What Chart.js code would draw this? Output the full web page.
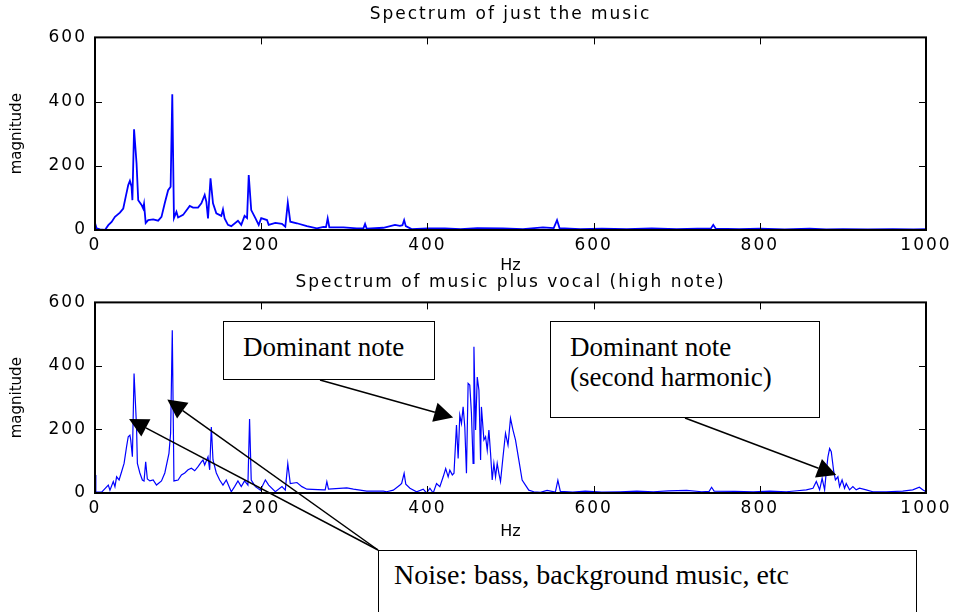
<!DOCTYPE html>
<html><head><meta charset="utf-8">
<script src="https://cdn.jsdelivr.net/npm/chart.js@4.4.1/dist/chart.umd.min.js"></script>
<style>
html,body{margin:0;padding:0;background:#fff;}
#wrap{position:relative;width:960px;height:612px;overflow:hidden;background:#fff;}
canvas{position:absolute;left:0;}
.note{position:absolute;box-sizing:border-box;border:1.5px solid #000;background:#fff;font-family:'Liberation Serif','Times New Roman',serif;font-size:27px;line-height:30px;color:#000;white-space:nowrap;}
</style></head><body>
<div id="wrap">
<canvas id="topChart" width="960" height="275" style="top:0"></canvas>
<canvas id="botChart" width="960" height="344" style="top:268px"></canvas>
<div class="note" style="left:223px;top:321px;width:212px;height:59px;padding:10px 0 0 19px">Dominant note</div>
<div class="note" style="left:550px;top:321px;width:270px;height:97px;padding:10px 0 0 19px">Dominant note<br>(second harmonic)</div>
<div class="note" style="left:378px;top:550px;width:539px;height:90px;padding:9px 0 0 15px;font-size:28px">Noise: bass, background music, etc</div>
</div>
<script>
// ---------------- data ----------------
const titleMusic = 'Spectrum of just the music';
const titleVocal = 'Spectrum of music plus vocal (high note)';
const xTitle = 'Hz';
const yTitle = 'magnitude';
const xTicks = [0, 200, 400, 600, 800, 1000];
const yTicks = [0, 200, 400, 600];

const freqMusic = [0,2,6,12,16,20,24,30,34,37,40,42,44,45,47,50,52,56,58,59,61,64,70,76,80,84,88,91,93,95,98,100,106,114,118,124,128,132,134,136,139,142,146,152,154,156,160,164,172,176,180,183,185,188,193,197,200,207,209,217,225,229,232,235,243,255,267,275,278,280,282,299,315,323,325,327,347,361,367,370,372,374,381,400,421,440,460,491,515,539,552,556,559,584,610,640,670,700,725,741,744,747,775,800,830,860,880,900,930,960,985,1000];
const magMusic  = [22,5,2,0,15,25,41,54,67,104,140,153,135,93,314,208,93,78,67,81,22,31,33,29,41,84,124,135,423,37,57,39,47,75,70,70,83,109,88,36,161,83,52,44,64,36,16,12,29,16,44,37,171,62,37,16,37,31,16,22,19,10,85,26,21,12,5,10,9,36,8,8,5,5,19,4,7,16,13,15,31,12,3,5,5,3,6,5,3,8,6,31,6,3,4,3,5,3,4,4,16,4,3,4,2,4,2,3,2,3,2,3];

const freqVocal = [0,1,8,16,18,22,24,26,29,32,35,38,40,42,43,45,47,50,51,54,57,59,61,63,66,70,74,80,84,89,91,93,95,100,104,108,112,116,120,124,128,130,132,136,138,140,142,146,150,154,158,164,168,172,176,180,184,186,188,193,199,205,209,217,225,229,232,235,243,249,255,275,277,279,281,303,311,327,347,351,359,367,369,372,374,379,387,395,399,403,407,411,415,419,422,425,427,430,432,435,437,439,441,443,445,447,449,451,453,455,456,458,460,462,464,465,468,470,472,474,476,478,480,482,484,486,488,491,494,497,500,503,506,510,514,518,522,528,536,544,554,557,560,575,590,610,632,652,672,690,712,730,739,742,745,770,792,812,832,845,856,864,868,872,875,878,880,882,884,886,889,891,894,896,899,902,904,908,912,916,920,928,936,952,972,984,992,996,1000];
const magVocal  = [57,4,3,25,9,36,20,51,41,67,93,146,177,182,167,114,376,208,93,63,41,38,98,44,38,41,25,38,63,125,188,512,38,41,57,63,73,78,70,83,98,104,88,114,73,208,104,63,41,25,41,4,20,38,20,38,25,233,41,20,9,41,25,4,20,9,93,30,33,20,12,10,10,36,12,16,12,6,6,4,9,25,30,62,28,15,4,12,0,15,0,30,20,51,77,51,72,57,62,214,109,245,219,271,208,62,345,340,250,93,460,198,365,324,104,271,167,177,135,198,125,41,93,51,93,62,36,114,188,151,235,198,167,104,41,25,9,4,2,8,3,40,5,3,6,3,4,6,4,7,8,4,5,18,6,5,4,6,4,7,10,15,36,10,46,10,67,114,140,130,67,41,51,20,41,15,30,10,20,10,15,10,4,4,6,10,18,10,4];

// annotation arrow targets (in data units)
const arrowHz  = [431, 892, 41, 87];
const arrowMag = [238, 57, 233, 294];
// ---------------- layout ----------------
const arrowTails = [[320,112],[685,150],[378,282],[378,282]]; // canvas px of bottom chart

Chart.defaults.font.family = "'DejaVu Sans', sans-serif";
Chart.defaults.color = '#000';

function wrapSpacing(obj, name, sp){
  if(!obj || !obj[name]) return;
  const orig = obj[name];
  obj[name] = function(...a){
    const ctx = this.ctx; ctx.save();
    try { ctx.letterSpacing = sp; } catch(e){}
    orig.apply(this, a); ctx.restore();
  };
}
const spacingPlugin = {
  id:'spacing',
  beforeDraw(chart){
    if(chart._spw) return; chart._spw = true;
    wrapSpacing(chart.scales.x,'drawLabels','2px');
    wrapSpacing(chart.scales.y,'drawLabels','2px');
    wrapSpacing(chart.titleBlock,'draw','2px');
  }
};
const matlabAxes = {
  id:'matlabAxes',
  afterDraw(chart){
    const {ctx, chartArea:{left,right,top,bottom}, scales:{x,y}} = chart;
    ctx.save();
    ctx.strokeStyle = '#000';
    ctx.lineWidth = 1;
    ctx.beginPath();
    xTicks.forEach(v=>{const px=Math.round(x.getPixelForValue(v))+0.5; ctx.moveTo(px,bottom); ctx.lineTo(px,bottom-7); ctx.moveTo(px,top); ctx.lineTo(px,top+7);});
    yTicks.forEach(v=>{const py=Math.round(y.getPixelForValue(v))+0.5; ctx.moveTo(left,py); ctx.lineTo(left+7,py); ctx.moveTo(right,py); ctx.lineTo(right-7,py);});
    ctx.stroke();
    ctx.lineWidth = 2;
    ctx.strokeRect(left,top,right-left,bottom-top);
    ctx.restore();
  }
};
const arrowPlugin = {
  id:'arrows',
  afterDraw(chart){
    const {ctx, scales:{x,y}} = chart;
    ctx.save();
    ctx.strokeStyle = '#000'; ctx.fillStyle = '#000'; ctx.lineWidth = 1.5;
    arrowHz.forEach((hz,i)=>{
      const x1 = x.getPixelForValue(hz), y1 = y.getPixelForValue(arrowMag[i]);
      const [x0,y0] = arrowTails[i];
      const a = Math.atan2(y1-y0, x1-x0), L = 19, W = 9.8;
      const bx = x1 - L*Math.cos(a), by = y1 - L*Math.sin(a);
      ctx.beginPath(); ctx.moveTo(x0,y0); ctx.lineTo(bx,by); ctx.stroke();
      ctx.beginPath(); ctx.moveTo(x1,y1);
      ctx.lineTo(bx + W*Math.sin(a), by - W*Math.cos(a));
      ctx.lineTo(bx - W*Math.sin(a), by + W*Math.cos(a));
      ctx.closePath(); ctx.fill();
    });
    ctx.restore();
  }
};

function makeChart(id, title, freq, mag, lw, cfg, extra){
  return new Chart(document.getElementById(id), {
    type:'line',
    data:{ datasets:[{ data: freq.map((f,i)=>({x:f, y:mag[i]})), borderColor:'#0000ff', borderWidth:lw, pointRadius:0, tension:0, fill:false }] },
    options:{
      responsive:false, animation:false, devicePixelRatio:1,
      layout:{ padding:{ left:0, right:34, top:0, bottom:cfg.padBottom } },
      plugins:{
        legend:{display:false}, tooltip:{enabled:false},
        title:{ display:true, text:title, fullSize:false, font:{size:17, weight:'normal'}, color:'#000', padding:{top:cfg.titleTop, bottom:cfg.titleBottom} }
      },
      scales:{
        x:{ type:'linear', min:0, max:1000,
            afterBuildTicks:s=>{ s.ticks = xTicks.map(v=>({value:v})); },
            afterFit:s=>{ s.height = cfg.xHeight; },
            grid:{display:false, drawTicks:false}, border:{display:false},
            ticks:{ font:{size:17}, padding:5, maxRotation:0, autoSkip:false, callback:v=>String(v) },
            title:{ display:true, text:xTitle, font:{size:16}, padding:{top:0,bottom:0} } },
        y:{ type:'linear', min:0, max:600,
            afterBuildTicks:s=>{ s.ticks = yTicks.map(v=>({value:v})); },
            afterFit:s=>{ s.width = 95; },
            grid:{display:false, drawTicks:false}, border:{display:false},
            ticks:{ font:{size:17}, padding:8, callback:v=>String(v) },
            title:{ display:true, text:yTitle, font:{size:15}, padding:{top:8,bottom:0} } }
      }
    },
    plugins:[spacingPlugin, matlabAxes].concat(extra||[])
  });
}

makeChart('topChart', titleMusic, freqMusic, magMusic, 1.8, {padBottom:0, titleTop:4, titleBottom:13, xHeight:45});
makeChart('botChart', titleVocal, freqVocal, magVocal, 1.2, {padBottom:71, titleTop:4, titleBottom:10, xHeight:48}, [arrowPlugin]);
</script>
</body></html>
